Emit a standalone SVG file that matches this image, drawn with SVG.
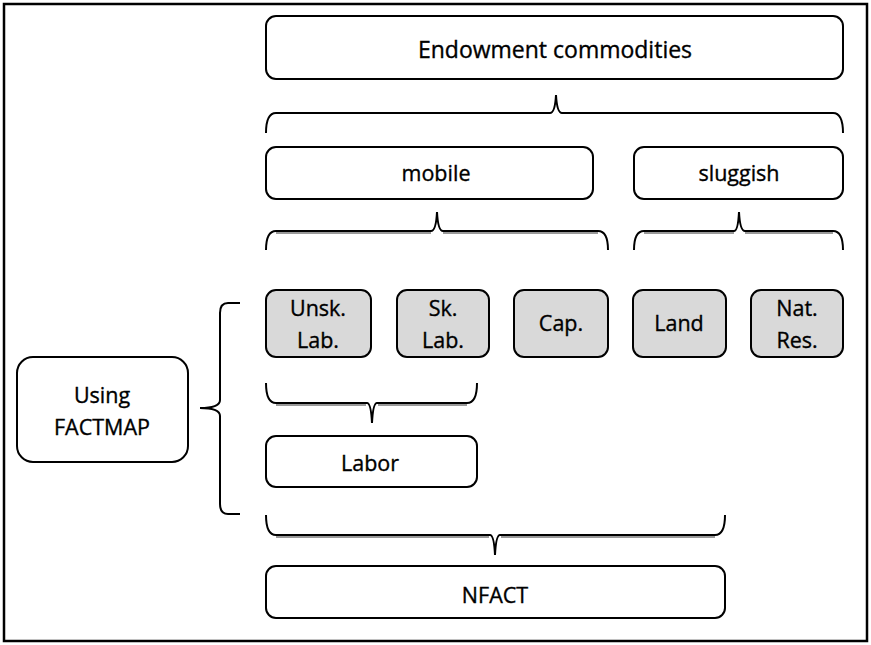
<svg xmlns="http://www.w3.org/2000/svg" width="871" height="645" viewBox="0 0 871 645">
<style>
.box{fill:#fff;stroke:#000;stroke-width:2}
.gbox{fill:#d9d9d9;stroke:#000;stroke-width:2}
.t{font-family:"Open Sans","Liberation Sans",sans-serif;font-size:21.5px;fill:#000;stroke:#000;stroke-width:0.35;text-anchor:middle}
.br{fill:none;stroke:#000;stroke-width:2}
.brs{fill:none;stroke:#999;stroke-width:2}
</style>
<rect x="0" y="0" width="871" height="645" fill="#fff"/>
<rect x="4" y="4" width="863" height="637" fill="none" stroke="#000" stroke-width="2.5"/>
<g id="endowment"><rect class="box" x="266" y="16" width="577" height="63" rx="10"/><text class="t" x="555" y="58" style="font-size:23px">Endowment commodities</text></g>
<g id="mobile"><rect class="box" x="266" y="147" width="327" height="52" rx="10"/><text class="t" x="436" y="181">mobile</text></g>
<g id="sluggish"><rect class="box" x="634" y="147" width="209" height="52" rx="10"/><text class="t" x="739" y="181">sluggish</text></g>
<g id="unsk"><rect class="gbox" x="266" y="290" width="105" height="67" rx="10"/><text class="t" x="318" y="316">Unsk.</text><text class="t" x="318" y="348">Lab.</text></g>
<g id="sk"><rect class="gbox" x="397" y="290" width="92" height="67" rx="10"/><text class="t" x="443" y="316">Sk.</text><text class="t" x="443" y="348">Lab.</text></g>
<g id="cap"><rect class="gbox" x="514" y="290" width="94" height="67" rx="10"/><text class="t" x="561" y="331">Cap.</text></g>
<g id="land"><rect class="gbox" x="633" y="290" width="93" height="67" rx="10"/><text class="t" x="679" y="331">Land</text></g>
<g id="natres"><rect class="gbox" x="751" y="290" width="92" height="67" rx="10"/><text class="t" x="797" y="316">Nat.</text><text class="t" x="797" y="348">Res.</text></g>
<g id="factmap"><rect class="box" x="17" y="357" width="171" height="105" rx="16"/><text class="t" x="102" y="403">Using</text><text class="t" x="102" y="435">FACTMAP</text></g>
<g id="labor"><rect class="box" x="266" y="436" width="211" height="51" rx="10"/><text class="t" x="370" y="471">Labor</text></g>
<g id="nfact"><rect class="box" x="266" y="566" width="459" height="52" rx="10"/><text class="t" x="495" y="603">NFACT</text></g>
<g id="connectors">
<path class="br" d="M266,133 Q266,113 276,113 L550,113 Q555,113 556,95 Q557,113 562,113 L833,113 Q843,113 843,133"/>
<path class="brs" d="M276,233 L431,233 M443,233 L598,233 M644,233 L734,233 M745,233 L833,233"/>
<path class="br" d="M266,250 Q266,231 276,231 L431,231 Q436,231 437,212 Q438,231 443,231 L598,231 Q608,231 608,250"/>
<path class="br" d="M634,250 Q634,231 644,231 L734,231 Q738,231 739,212 Q740,231 745,231 L833,231 Q843,231 843,250"/>
<path class="br" d="M240,303 L228,303 Q220,303 220,313 L220,400 Q220,408 200,408 Q220,408 220,416 L220,504 Q220,514 228,514 L240,514"/>
<path class="brs" d="M276,405 L366,405 M378,405 L467,405 M276,537 L489,537 M501,537 L715,537"/>
<path class="br" d="M266,383 Q266,403 276,403 L367,403 Q371,403 372,423 Q373,403 377,403 L467,403 Q477,403 477,383"/>
<path class="br" d="M266,515 Q266,535 276,535 L490,535 Q494,535 495,555 Q496,535 500,535 L715,535 Q725,535 725,515"/>
</g>
</svg>
